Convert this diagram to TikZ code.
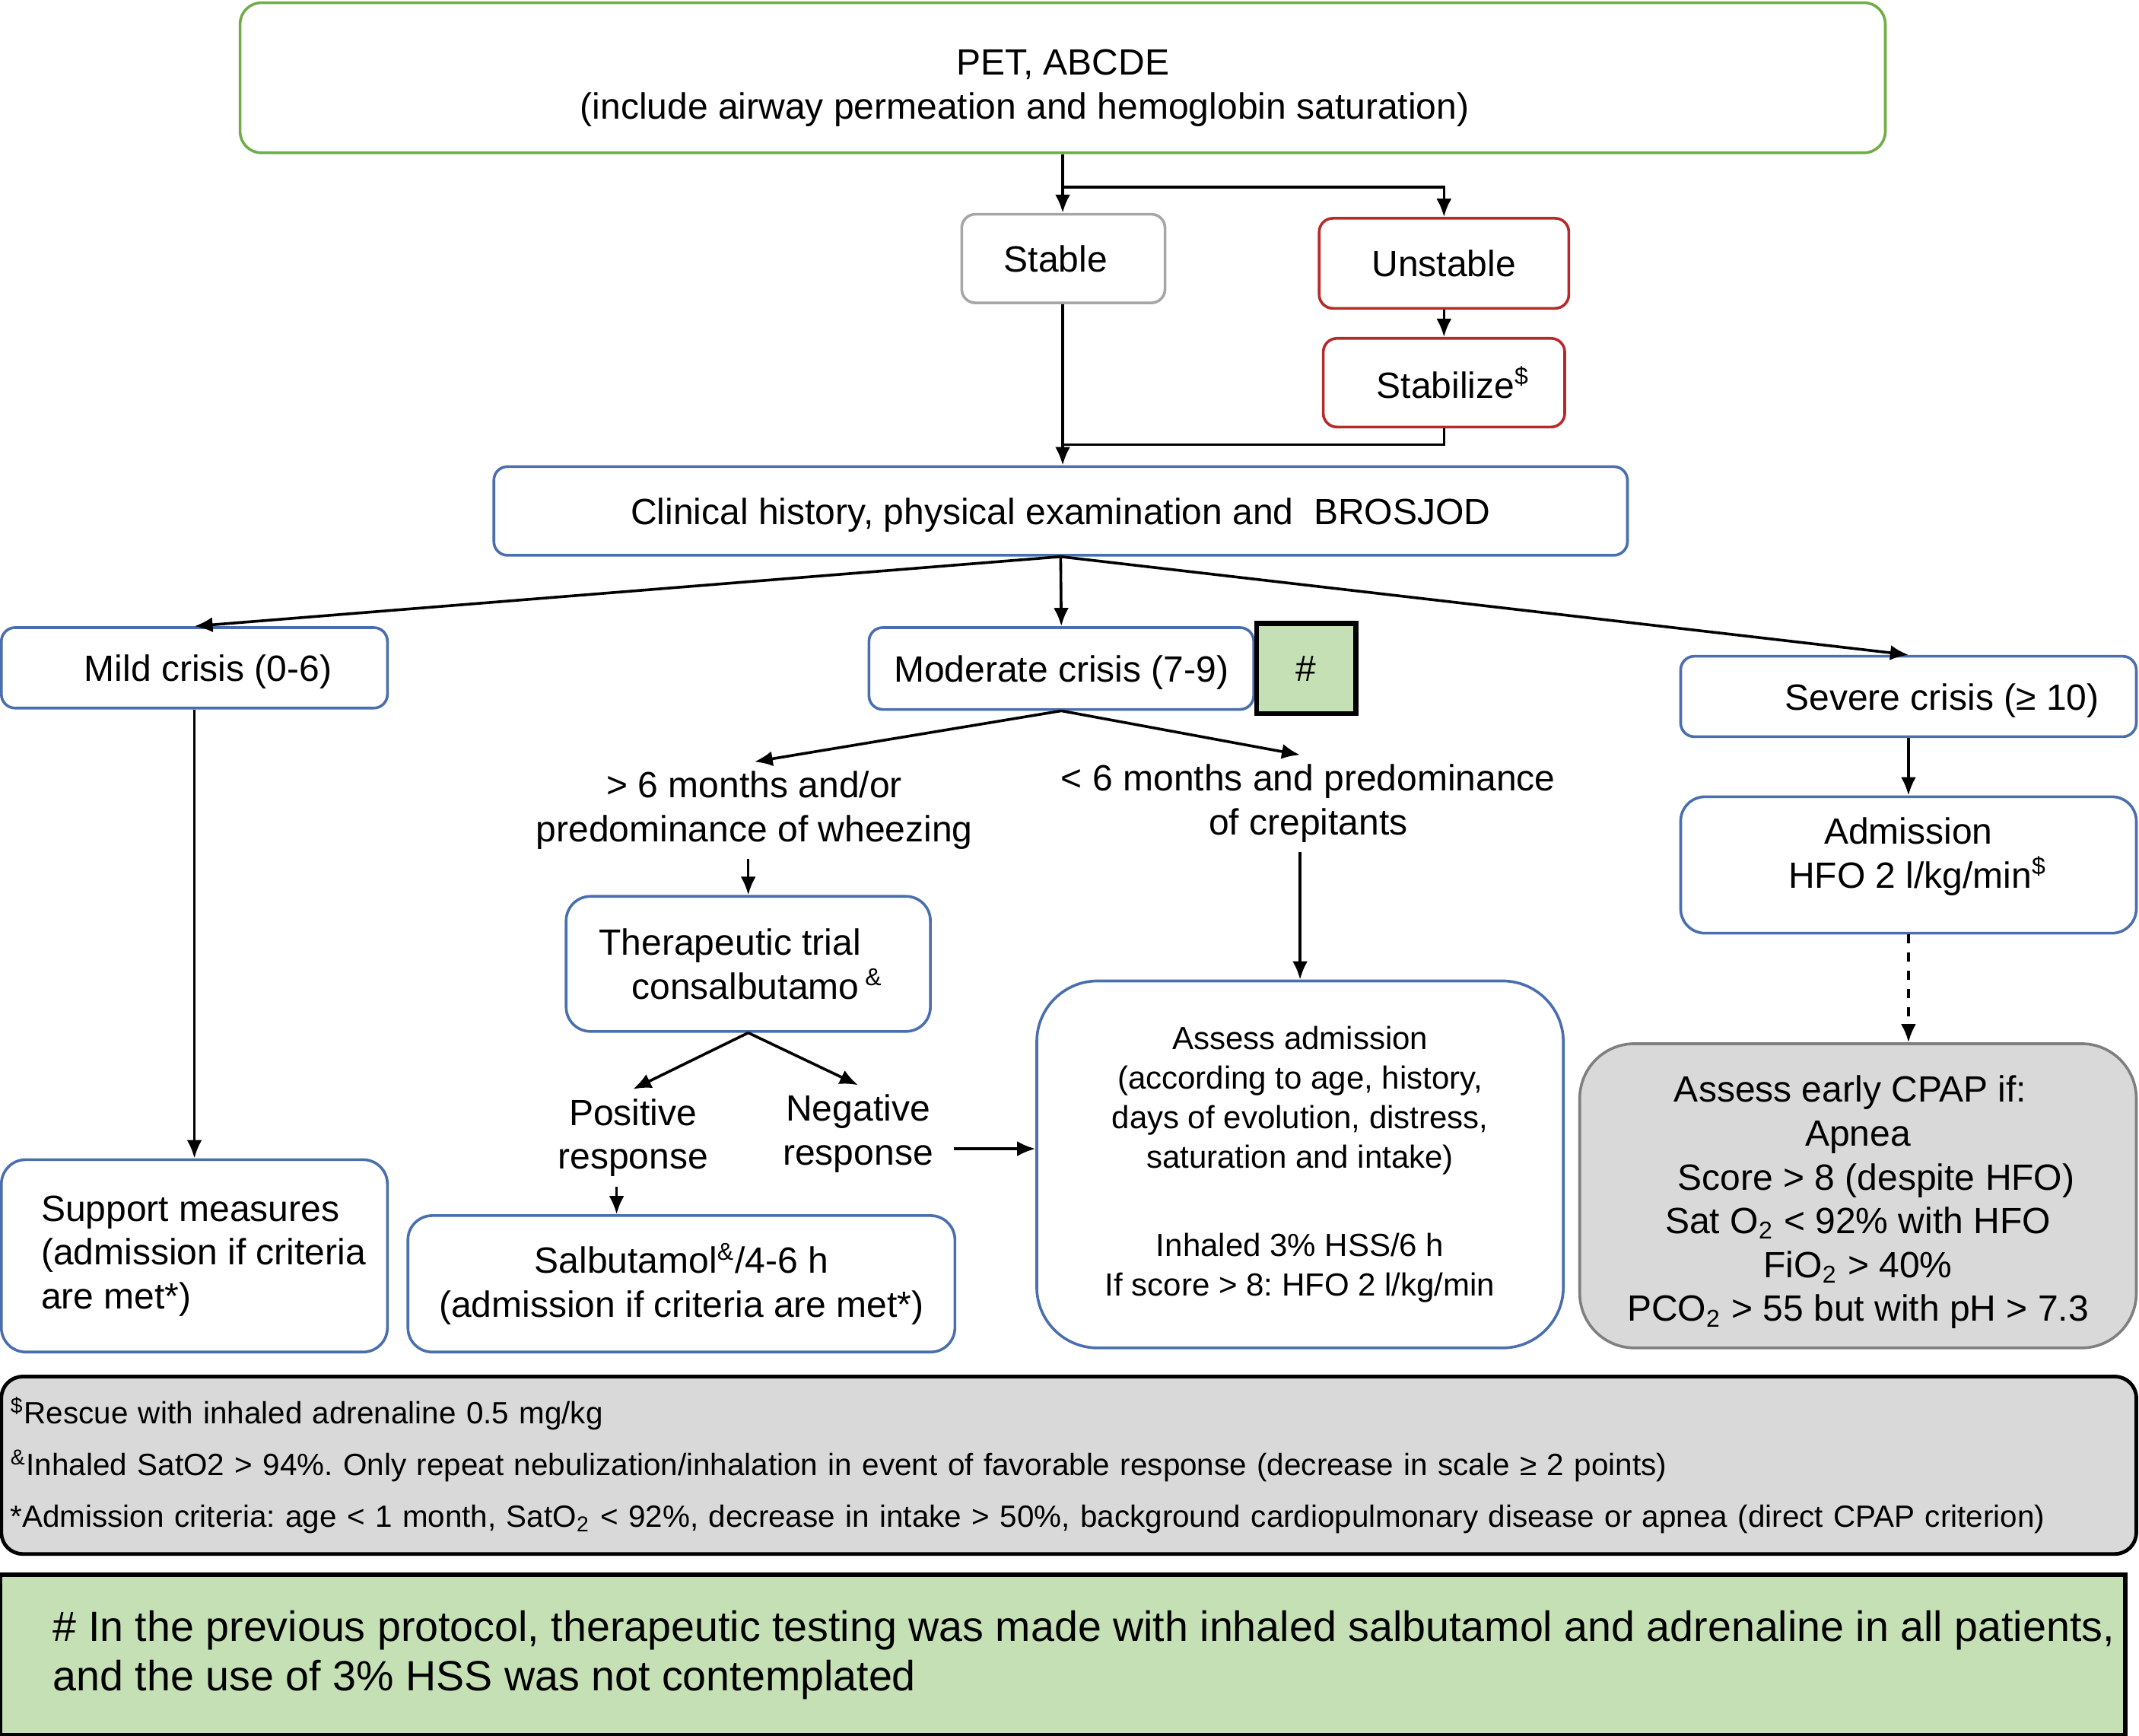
\documentclass[tikz,border=0pt]{standalone}
\usepackage{fontspec}
\setmainfont{Liberation Sans}
\usetikzlibrary{arrows.meta}
\definecolor{gbord}{HTML}{70AD47}
\definecolor{bbord}{HTML}{4A6EAE}
\definecolor{rbord}{HTML}{B52A2A}
\definecolor{sbord}{HTML}{A6A6A6}
\definecolor{gfill}{HTML}{C5E0B4}
\definecolor{grfill}{HTML}{D9D9D9}
\definecolor{cbord}{HTML}{7F7F7F}
\newcommand\fmain{\fontsize{12}{14.4}\selectfont}
\newcommand\fassess{\fontsize{10.5}{13}\selectfont}
\newcommand\ffoot{\fontsize{10.1}{17}\selectfont}
\newcommand\fgreen{\fontsize{13.9}{16.2}\selectfont}
\newcommand\lowstrut{\rule{0pt}{11.5pt}}
\frenchspacing
\begin{document}
\begin{tikzpicture}[x=0.44835pt,y=-0.44835pt,
  sz/.style n args={2}{minimum width={#1*0.44835pt}, minimum height={#2*0.44835pt}},
  box/.style={draw=bbord, line width=0.9pt, rounded corners=4.5pt, inner sep=0pt, align=center, font=\fmain},
  txt/.style={inner sep=3pt, align=center, font=\fmain},
  conn/.style={line width=0.9pt},
  arr/.style={line width=0.9pt, -{Latex[length=6pt,width=5pt]}},
]
\useasboundingbox (0,0) rectangle (1568,1272);

% top part
\node[box, draw=gbord, rounded corners=7pt, sz={1206}{110}] (top) at (779,57)
  {\rule{0pt}{15pt}PET, ABCDE\\(include airway permeation and hemoglobin saturation)\hspace*{25pt}};
\node[box, draw=sbord, sz={149}{65}] (stable) at (779.5,189.5) {Stable\hspace*{5pt}};
\node[box, draw=rbord, sz={183}{66}] (unstable) at (1058.5,193) {Unstable};
\node[box, draw=rbord, sz={177}{65}] (stabilize) at (1058.5,280.5) {\hspace*{6pt}Stabilize\textsuperscript{\$}};
\node[box, sz={831}{65}] (clinical) at (777.5,374.5) {\lowstrut Clinical history, physical examination and\ \ BROSJOD};

\coordinate (j1) at (779,137);
\coordinate (j2) at (779,326);
\draw[conn] (top.south -| j1) -- (j1);
\draw[arr] (j1) -- (stable.north -| j1);
\draw[arr] (j1) -| (unstable.north);
\draw[arr] (unstable) -- (stabilize);
\draw[conn] (stable.south -| j2) -- (j2);
\draw[conn] (stabilize.south) |- (j2);
\draw[arr] (j2) -- (clinical.north -| j2);

% crisis level
\node[box, sz={283}{59}] (mild) at (142.5,489.5) {\lowstrut\hspace*{9pt}Mild crisis (0-6)};
\node[box, sz={282}{60}] (moderate) at (778,490) {\lowstrut Moderate crisis (7-9)};
\node[draw=black, fill=gfill, line width=1.6pt, sz={73}{66}, inner sep=0pt, font=\fmain] (hash) at (957.5,490) {\#};
\node[box, sz={334}{59}] (severe) at (1399,510.5) {\lowstrut\hspace*{22pt}Severe crisis (≥ 10)};

\draw[arr] (clinical.south) -- (mild.north);
\draw[arr] (clinical.south) -- (moderate.north);
\draw[arr] (clinical.south) -- (severe.north);

% mild branch
\node[box, rounded corners=8pt, sz={283}{141}, align=left] (support) at (142.5,920.5)
  {\hspace*{6pt}Support measures\\\hspace*{6pt}(admission if criteria\\\hspace*{6pt}are met*)};
\draw[arr] (mild.south) -- (support.north);

% moderate branch
\node[txt] (wheeze) at (553,594) {> 6 months and/or\\predominance of wheezing};
\node[txt] (crep) at (959,589) {< 6 months and predominance\\of crepitants};
\draw[arr] (moderate.south) -- (wheeze.north);
\draw[arr] (moderate.south) -- (crep.north -| 953,0);

\node[box, rounded corners=8pt, sz={267}{99}] (therap) at (548.5,706.5)
  {Therapeutic trial\hspace*{12pt}\\\hspace*{6pt}consalbutamo\,\textsuperscript{\&}};
\draw[arr] (wheeze.south -| therap.north) -- (therap.north);

\node[txt] (positive) at (464,834) {Positive\\response};
\node[txt] (negative) at (629,831) {Negative\\response};
\draw[arr] (therap.south) -- (positive.north);
\draw[arr] (therap.south) -- (negative.north);

\node[box, rounded corners=8pt, sz={401}{100}] (salb) at (499.5,941)
  {Salbutamol\textsuperscript{\&}/4-6 h\\(admission if criteria are met*)};
\draw[arr] (positive.south -| 452,0) -- (salb.north -| 452,0);

\node[box, rounded corners=20pt, sz={386}{269}, font=\fassess] (assess) at (953,853.5)
  {Assess admission\\(according to age, history,\\days of evolution, distress,\\saturation and intake)\\[16pt]
   Inhaled 3\% HSS/6 h\\If score > 8: HFO 2 l/kg/min};
\draw[arr] (crep.south -| assess.north) -- (assess.north);
\draw[arr] (negative.east) ++(8,11) coordinate (nege) -- (nege -| assess.west);

% severe branch
\node[box, rounded corners=8pt, sz={334}{100}] (admission) at (1399,634)
  {Admission\\\hspace*{6pt}HFO 2 l/kg/min\textsuperscript{\$}\rule[-8pt]{0pt}{8pt}};
\draw[arr] (severe.south) -- (admission.north);

\node[box, draw=cbord, fill=grfill, rounded corners=18pt, sz={408}{223}] (cpap) at (1362,876.5)
  {\rule{0pt}{13pt}Assess early CPAP if:\hspace*{5pt}\\Apnea\hspace*{12.5pt}\\\hspace*{12pt}Score > 8 (despite HFO)\\Sat O\textsubscript{2} < 92\% with HFO\\FiO\textsubscript{2} > 40\%\hspace*{12.5pt}\\PCO\textsubscript{2} > 55 but with pH > 7.3};
\draw[arr, dashed] (admission.south) -- (admission.south |- cpap.north);

% footnotes
\node[draw=black, fill=grfill, line width=1.2pt, rounded corners=7pt, sz={1565}{130}, inner xsep=3pt, inner ysep=0pt,
      text width={1565*0.44835pt-6pt}, align=left, font=\ffoot] (foot) at (783.5,1074)
  {\textsuperscript{\$}Rescue with inhaled adrenaline 0.5 mg/kg\\
   \textsuperscript{\&}Inhaled SatO2 > 94\%. Only repeat nebulization/inhalation in event of favorable response (decrease in scale ≥ 2 points)\\
   \relax *Admission criteria: age < 1 month, SatO\textsubscript{2} < 92\%, decrease in intake > 50\%, background cardiopulmonary disease or apnea (direct CPAP criterion)};

\node[draw=black, fill=gfill, line width=1.5pt, sz={1558}{118}, inner sep=0pt, align=left, font=\fgreen] (note) at (779,1213)
  {\hspace*{14pt}\# In the previous protocol, therapeutic testing was made with inhaled salbutamol and adrenaline in all patients,\\
   \hspace*{14pt}and the use of 3\% HSS was not contemplated};
\end{tikzpicture}
\end{document}
